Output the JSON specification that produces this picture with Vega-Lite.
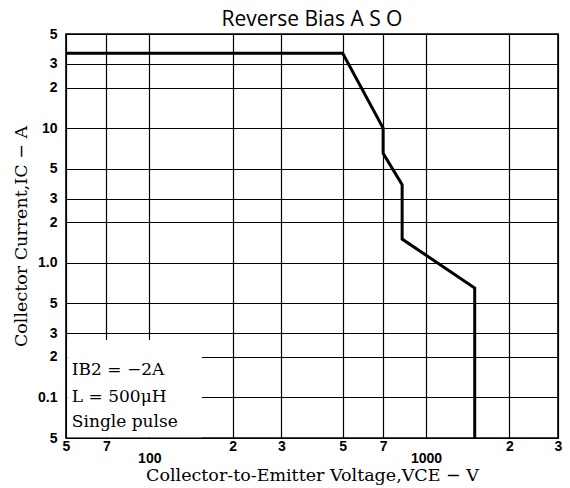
{
  "$schema": "https://vega.github.io/schema/vega-lite/v6.json",
  "width": 492,
  "height": 404,
  "autosize": "none",
  "padding": {"left": 66, "top": 34, "right": 12, "bottom": 50},
  "background": "white",
  "title": {"text": "Reverse Bias A S O", "font": "Open Sans", "fontSize": 21, "fontWeight": "normal", "color": "black", "anchor": "middle", "offset": -3},
  "config": {
    "view": {"stroke": "black", "strokeWidth": 1.6},
    "axis": {"grid": true, "gridColor": "black", "gridOpacity": 1, "gridWidth": 1.2, "domain": false, "ticks": false, "labelColor": "black", "labelFont": "Liberation Sans", "labelFontWeight": "bold", "labelFontSize": 14, "labelOverlap": false, "labelBound": false, "labelFlush": false, "titleColor": "black", "titleFont": "DejaVu Serif", "titleFontWeight": "normal"}
  },
  "datasets": {
    "curve": [
      {"v": 50, "i": 36},
      {"v": 500, "i": 36},
      {"v": 700, "i": 10},
      {"v": 700, "i": 6.5},
      {"v": 820, "i": 3.8},
      {"v": 820, "i": 1.5},
      {"v": 1500, "i": 0.65},
      {"v": 1500, "i": 0.05}
    ],
    "box": [{"v1": 50.6, "v2": 155, "i1": 0.0506, "i2": 0.267}],
    "notes": [
      {"v": 52.5, "i": 0.16, "t": "IB2 = −2A"},
      {"v": 52.5, "i": 0.101, "t": "L = 500μH"},
      {"v": 52.5, "i": 0.066, "t": "Single pulse"}
    ]
  },
  "layer": [
    {
      "data": {"name": "curve"},
      "mark": {"type": "line", "color": "black", "strokeWidth": 3, "strokeJoin": "miter"},
      "encoding": {
        "x": {"field": "v", "type": "quantitative", "scale": {"type": "log", "domain": [50, 3000], "nice": false},
          "axis": {"values": [50, 70, 100, 200, 300, 500, 700, 1000, 2000, 3000], "labelPadding": 1, "labelLineHeight": 12,
            "labelExpr": "datum.value == 100 ? ['', '100'] : datum.value == 1000 ? ['', '1000'] : substring(toString(datum.value), 0, 1)",
            "title": "Collector-to-Emitter Voltage,VCE − V", "titleFontSize": 17.5, "titlePadding": 1}},
        "y": {"field": "i", "type": "quantitative", "scale": {"type": "log", "domain": [0.05, 50], "nice": false},
          "axis": {"values": [0.05, 0.1, 0.2, 0.3, 0.5, 1, 2, 3, 5, 10, 20, 30, 50], "labelPadding": 9,
            "labelExpr": "datum.value == 10 ? '10' : datum.value == 1 ? '1.0' : datum.value == 0.1 ? '0.1' : (datum.value == 50 || datum.value == 5 || datum.value == 0.5 || datum.value == 0.05) ? '5' : (datum.value == 30 || datum.value == 3 || datum.value == 0.3) ? '3' : '2'",
            "title": "Collector Current,IC − A", "titleFontSize": 17.5, "titlePadding": 7}}
      }
    },
    {
      "data": {"name": "box"},
      "mark": {"type": "rect", "fill": "white"},
      "encoding": {
        "x": {"field": "v1", "type": "quantitative"},
        "x2": {"field": "v2"},
        "y": {"field": "i1", "type": "quantitative"},
        "y2": {"field": "i2"}
      }
    },
    {
      "data": {"name": "notes"},
      "mark": {"type": "text", "align": "left", "baseline": "middle", "font": "DejaVu Serif", "fontSize": 17, "color": "black"},
      "encoding": {
        "x": {"field": "v", "type": "quantitative"},
        "y": {"field": "i", "type": "quantitative"},
        "text": {"field": "t"}
      }
    }
  ]
}
